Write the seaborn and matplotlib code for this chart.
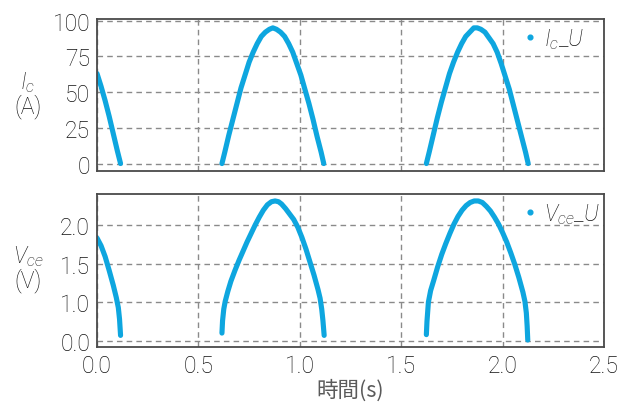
import matplotlib
matplotlib.use("Agg")
import matplotlib.pyplot as plt
from matplotlib.lines import Line2D
import seaborn as sns
import pandas as pd

# Collector current Ic_U (A): one list per conduction interval
ic_t_seg0 = [0.0, 0.02, 0.04, 0.06, 0.08, 0.10, 0.116]
ic_seg0 = [63, 54, 44, 33, 21, 9, 0]
ic_t_seg1 = [0.616, 0.63, 0.65, 0.67, 0.69, 0.71, 0.73, 0.75, 0.77, 0.79, 0.81, 0.83, 0.85, 0.867,
             0.885, 0.905, 0.925, 0.945, 0.965, 0.985, 1.005, 1.025, 1.045, 1.065, 1.085, 1.105, 1.118]
ic_seg1 = [0, 8, 20, 31, 42, 53, 62, 71, 78, 84, 89, 92, 94, 95,
           94, 92, 89, 84, 78, 70, 62, 52, 42, 31, 19, 8, 0]
ic_t_seg2 = [1.624, 1.638, 1.658, 1.678, 1.698, 1.718, 1.738, 1.758, 1.778, 1.798, 1.818, 1.838, 1.858, 1.875,
             1.893, 1.913, 1.933, 1.953, 1.973, 1.993, 2.013, 2.033, 2.053, 2.073, 2.093, 2.113, 2.126]
ic_seg2 = [0, 8, 20, 32, 43, 53, 63, 71, 78, 84, 89, 92, 95, 95,
           94, 92, 88, 84, 78, 70, 61, 52, 41, 30, 19, 8, 0]

# Collector-emitter voltage Vce_U (V)
vce_t_seg0 = [0.0, 0.02, 0.04, 0.06, 0.08, 0.095, 0.105, 0.111, 0.116]
vce_seg0 = [1.83, 1.73, 1.59, 1.41, 1.22, 1.06, 0.93, 0.78, 0.57]
vce_t_seg1 = [0.616, 0.619, 0.625, 0.632, 0.645, 0.66, 0.68, 0.70, 0.72, 0.74, 0.76, 0.78,
              0.80, 0.82, 0.84, 0.86, 0.878, 0.895, 0.91, 0.93, 0.95, 0.97, 0.99, 1.01,
              1.03, 1.05, 1.07, 1.09, 1.10, 1.108, 1.114, 1.120]
vce_seg1 = [0.60, 0.76, 0.91, 1.01, 1.14, 1.27, 1.41, 1.54, 1.66, 1.78, 1.89, 2.00,
            2.10, 2.19, 2.26, 2.30, 2.31, 2.30, 2.27, 2.21, 2.14, 2.07, 1.97, 1.84,
            1.69, 1.52, 1.35, 1.16, 1.05, 0.91, 0.76, 0.57]
vce_t_seg2 = [1.624, 1.627, 1.634, 1.645, 1.66, 1.68, 1.70, 1.72, 1.74, 1.76, 1.78, 1.80,
              1.82, 1.84, 1.86, 1.88, 1.90, 1.92, 1.94, 1.96, 1.98, 2.00, 2.02, 2.04,
              2.06, 2.08, 2.10, 2.11, 2.117, 2.121, 2.124]
vce_seg2 = [0.58, 0.75, 1.00, 1.15, 1.28, 1.46, 1.62, 1.76, 1.89, 2.01, 2.11, 2.19,
            2.25, 2.29, 2.31, 2.31, 2.29, 2.24, 2.18, 2.10, 2.01, 1.90, 1.78, 1.64,
            1.49, 1.32, 1.13, 1.01, 0.86, 0.69, 0.51]

# Axis ticks
x_ticks = [0.0, 0.5, 1.0, 1.5, 2.0, 2.5]
x_tick_labels = ["0.0", "0.5", "1.0", "1.5", "2.0", "2.5"]
ic_ticks = [0, 25, 50, 75, 100]
ic_tick_labels = ["0", "25", "50", "75", "100"]
vce_ticks = [0.5, 1.0, 1.5, 2.0]
vce_tick_labels = ["0.0", "1.0", "1.5", "2.0"]


def frame(ts, vs):
    rows = []
    for k, (t, v) in enumerate(zip(ts, vs)):
        rows.append(pd.DataFrame({"t": t, "v": v, "seg": k}))
    return pd.concat(rows, ignore_index=True)


ic_df = frame([ic_t_seg0, ic_t_seg1, ic_t_seg2], [ic_seg0, ic_seg1, ic_seg2])
vce_df = frame([vce_t_seg0, vce_t_seg1, vce_t_seg2], [vce_seg0, vce_seg1, vce_seg2])

sns.set_theme(style="white")
plt.rcParams["font.family"] = ["Roboto", "DejaVu Sans"]
plt.rcParams["mathtext.fontset"] = "custom"
plt.rcParams["mathtext.it"] = "Roboto:italic:light"
plt.rcParams["mathtext.rm"] = "Roboto:light"

TEXT = "#111111"
BLUE = "#0ea6df"
GRID = "#8a8a8a"
FS = 16.5

fig = plt.figure(figsize=(6.35, 4.06), dpi=100)
ax1 = fig.add_axes([0.1528, 0.5764, 0.7984, 0.3743])
ax2 = fig.add_axes([0.1528, 0.1429, 0.7984, 0.3768])

for ax, df in ((ax1, ic_df), (ax2, vce_df)):
    sns.lineplot(data=df, x="t", y="v", units="seg", estimator=None, sort=False,
                 color=BLUE, linewidth=3.7, ax=ax, legend=False,
                 solid_capstyle="round", solid_joinstyle="round")
    ax.set_xlim(0, 2.5)
    ax.set_xticks(x_ticks)
    ax.grid(True, color=GRID, linestyle=(0, (4, 3)), linewidth=1.0)
    for s in ax.spines.values():
        s.set_color("#4a4a4a")
        s.set_linewidth(1.3)
    ax.tick_params(length=0, pad=5, labelsize=FS, colors=TEXT)
    ax.set_xlabel("")

ax1.set_ylim(-5.2, 101.2)
ax1.set_yticks(ic_ticks)
ax1.set_yticklabels(ic_tick_labels, fontweight="light")
ax1.set_xticklabels([])

ax2.set_ylim(0.42, 2.40)
ax2.set_yticks(vce_ticks)
ax2.set_yticklabels(vce_tick_labels, fontweight="light")
ax2.set_xticklabels(x_tick_labels, fontweight="light")

ax1.set_ylabel("$I_c$\n(A)", rotation=0, fontsize=FS, color=TEXT, fontweight="light",
               ha="center", va="center", linespacing=1.0)
ax1.yaxis.set_label_coords(-0.136, 0.51)
ax2.set_ylabel("$V_{ce}$\n(V)", rotation=0, fontsize=FS, color=TEXT, fontweight="light",
               ha="center", va="center", linespacing=1.0)
ax2.yaxis.set_label_coords(-0.136, 0.52)

ax2.set_xlabel("時間(s)", fontsize=15.5, color="#5a5a5a", fontweight="normal",
               family=["Noto Sans CJK JP", "DejaVu Sans"], labelpad=1)

for ax, name in ((ax1, r"$I_c\_U$"), (ax2, r"$V_{ce}\_U$")):
    h = Line2D([], [], color=BLUE, marker="o", markersize=3.4, linestyle="none")
    leg = ax.legend([h], [name], loc="upper left", frameon=False, fontsize=FS,
                    handlelength=0.5, handletextpad=0.35, borderaxespad=0.0,
                    borderpad=0.3, bbox_to_anchor=(0.83, 1.0))
    for t in leg.get_texts():
        t.set_color(TEXT)

fig.savefig("out.png", dpi=100)
